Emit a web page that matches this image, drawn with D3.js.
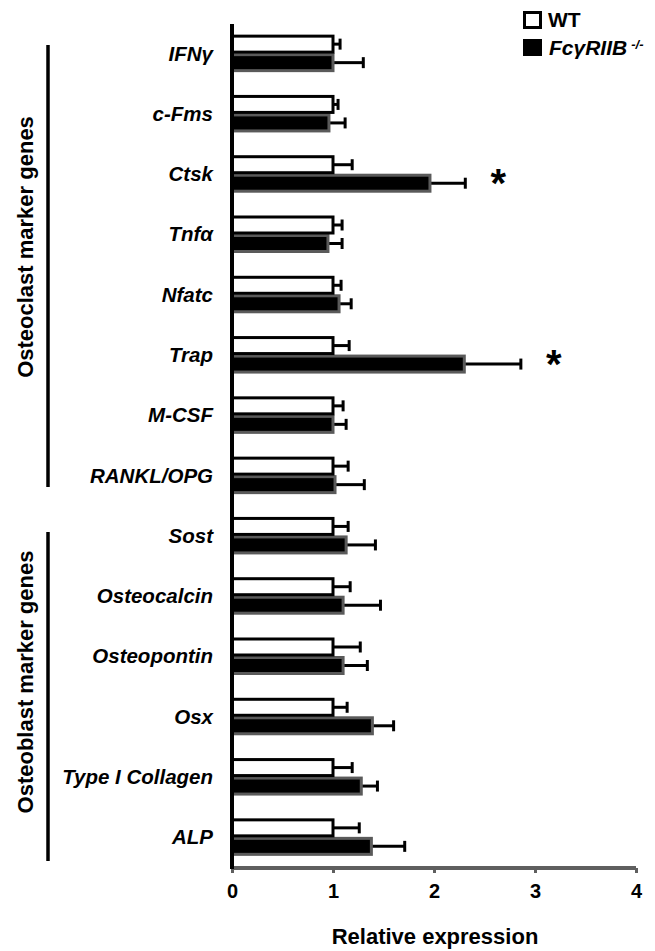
<!DOCTYPE html>
<html>
<head>
<meta charset="utf-8">
<script src="https://cdn.jsdelivr.net/npm/d3@7/dist/d3.min.js"></script>
<style>
  html, body { margin: 0; padding: 0; background: #fff; }
  svg { display: block; font-family: "Liberation Sans", Arial, sans-serif; }
</style>
</head>
<body>
<svg id="chart" width="655" height="951"></svg>
<script>
// ---- data ----
const categories = ["IFNγ", "c-Fms", "Ctsk", "Tnfα", "Nfatc", "Trap", "M-CSF", "RANKL/OPG",
  "Sost", "Osteocalcin", "Osteopontin", "Osx", "Type I Collagen", "ALP"];
const wtValues = [1, 1, 1, 1, 1, 1, 1, 1, 1, 1, 1, 1, 1, 1];
const wtErrors = [0.07, 0.05, 0.19, 0.09, 0.08, 0.16, 0.10, 0.15, 0.15, 0.17, 0.27, 0.14, 0.19, 0.26];
const koValues = [1.00, 0.96, 1.96, 0.95, 1.06, 2.30, 1.00, 1.02, 1.13, 1.10, 1.10, 1.39, 1.28, 1.38];
const koErrors = [0.30, 0.16, 0.35, 0.14, 0.12, 0.56, 0.13, 0.29, 0.29, 0.37, 0.24, 0.21, 0.16, 0.33];
const significant = ["Ctsk", "Trap"];
const xTicks = [0, 1, 2, 3, 4];
const groups = [
  { name: "Osteoclast marker genes", first: "IFNγ", last: "RANKL/OPG" },
  { name: "Osteoblast marker genes", first: "Sost", last: "ALP" }
];
const seriesNames = ["WT", "FcγRIIB"];

// ---- layout ----
const svg = d3.select("#chart");
const x = d3.scaleLinear().domain([0, 4]).range([232, 636]);
const y = d3.scaleBand().domain(categories).range([23, 867]);
const step = y.step();
const center = c => y(c) + step / 2;
const barH = 16;
const axisY = 868;

const g = svg.append("g");

// error bars WT
g.selectAll(".errWT").data(categories).join("line")
  .attr("x1", (d, i) => x(wtValues[i])).attr("x2", (d, i) => x(wtValues[i] + wtErrors[i]))
  .attr("y1", d => center(d) - barH / 2 - 1).attr("y2", d => center(d) - barH / 2 - 1)
  .attr("stroke", "#000").attr("stroke-width", 3);
g.selectAll(".capWT").data(categories).join("line")
  .attr("x1", (d, i) => x(wtValues[i] + wtErrors[i])).attr("x2", (d, i) => x(wtValues[i] + wtErrors[i]))
  .attr("y1", d => center(d) - barH / 2 - 6.5).attr("y2", d => center(d) - barH / 2 + 4.5)
  .attr("stroke", "#000").attr("stroke-width", 3);

// error bars KO
g.selectAll(".errKO").data(categories).join("line")
  .attr("x1", (d, i) => x(koValues[i])).attr("x2", (d, i) => x(koValues[i] + koErrors[i]))
  .attr("y1", d => center(d) + barH / 2 + 1.5).attr("y2", d => center(d) + barH / 2 + 1.5)
  .attr("stroke", "#000").attr("stroke-width", 3);
g.selectAll(".capKO").data(categories).join("line")
  .attr("x1", (d, i) => x(koValues[i] + koErrors[i])).attr("x2", (d, i) => x(koValues[i] + koErrors[i]))
  .attr("y1", d => center(d) + barH / 2 - 4).attr("y2", d => center(d) + barH / 2 + 7)
  .attr("stroke", "#000").attr("stroke-width", 3);

// KO bars (black with grey outline)
g.selectAll(".ko").data(categories).join("rect")
  .attr("x", x(0)).attr("y", d => center(d) + 1.5)
  .attr("width", (d, i) => x(koValues[i]) - x(0)).attr("height", barH)
  .attr("fill", "#000").attr("stroke", "#5a5a5a").attr("stroke-width", 3);

// WT bars (white with black outline)
g.selectAll(".wt").data(categories).join("rect")
  .attr("x", x(0)).attr("y", d => center(d) - barH - 1)
  .attr("width", (d, i) => x(wtValues[i]) - x(0)).attr("height", barH)
  .attr("fill", "#fff").attr("stroke", "#000").attr("stroke-width", 3);

// significance stars
g.selectAll(".star").data(significant).join("text")
  .attr("x", d => { const i = categories.indexOf(d); return x(koValues[i] + koErrors[i]) + 33; })
  .attr("y", d => center(d) + 23)
  .attr("text-anchor", "middle")
  .attr("font-size", 40).attr("font-weight", "bold")
  .text("*");

// x axis
const xAxis = d3.axisBottom(x).tickValues(xTicks).tickSize(5).tickFormat(d3.format("d"));
const ax = svg.append("g").attr("transform", `translate(0,${axisY})`).call(xAxis);
ax.select(".domain").attr("stroke", "#5f5f5f").attr("stroke-width", 4)
  .attr("d", `M${x(0)},0H${x(4)}`);
ax.selectAll(".tick line").attr("stroke", "#5f5f5f").attr("stroke-width", 3);
ax.selectAll(".tick text").attr("font-size", 20).attr("font-weight", "bold")
  .attr("fill", "#000").attr("font-family", "Liberation Sans, Arial, sans-serif").attr("dy", "0.95em").attr("y", 11);

// y axis line
svg.append("line").attr("x1", x(0)).attr("x2", x(0)).attr("y1", 24).attr("y2", axisY + 1)
  .attr("stroke", "#000").attr("stroke-width", 4);

// category labels
svg.selectAll(".cat").data(categories).join("text")
  .attr("x", 213).attr("y", d => center(d))
  .attr("dy", "0.36em")
  .attr("text-anchor", "end")
  .attr("font-size", 20.5).attr("font-weight", "bold").attr("font-style", "italic")
  .text(d => d);

// x title
svg.append("text").attr("x", (x(0) + x(4)) / 2 + 1).attr("y", 944)
  .attr("text-anchor", "middle").attr("font-size", 22).attr("font-weight", "bold")
  .text("Relative expression");

// group brackets and labels
const bracketSpans = [[45, 487], [532, 861]];
groups.forEach((grp, k) => {
  const [y1, y2] = bracketSpans[k];
  svg.append("line").attr("x1", 48).attr("x2", 48).attr("y1", y1).attr("y2", y2)
    .attr("stroke", "#000").attr("stroke-width", 3.5);
  const cy = k === 0 ? 247 : 682;
  svg.append("text").attr("transform", `translate(33,${cy}) rotate(-90)`)
    .attr("text-anchor", "middle").attr("font-size", 22).attr("font-weight", "bold")
    .text(grp.name);
});

// legend
const lg = svg.append("g");
lg.append("rect").attr("x", 524.5).attr("y", 12.5).attr("width", 16).attr("height", 15)
  .attr("fill", "#fff").attr("stroke", "#000").attr("stroke-width", 3);
lg.append("rect").attr("x", 523).attr("y", 39).attr("width", 19).attr("height", 17)
  .attr("fill", "#000");
lg.append("text").attr("x", 548).attr("y", 27).attr("font-size", 21).attr("font-weight", "bold")
  .text(seriesNames[0]);
const t2 = lg.append("text").attr("x", 549).attr("y", 55).attr("font-size", 21)
  .attr("font-weight", "bold").attr("font-style", "italic");
t2.append("tspan").text(seriesNames[1]);
t2.append("tspan").attr("dx", 4).attr("dy", -6).attr("font-size", 13).text("-/-");
</script>
</body>
</html>
